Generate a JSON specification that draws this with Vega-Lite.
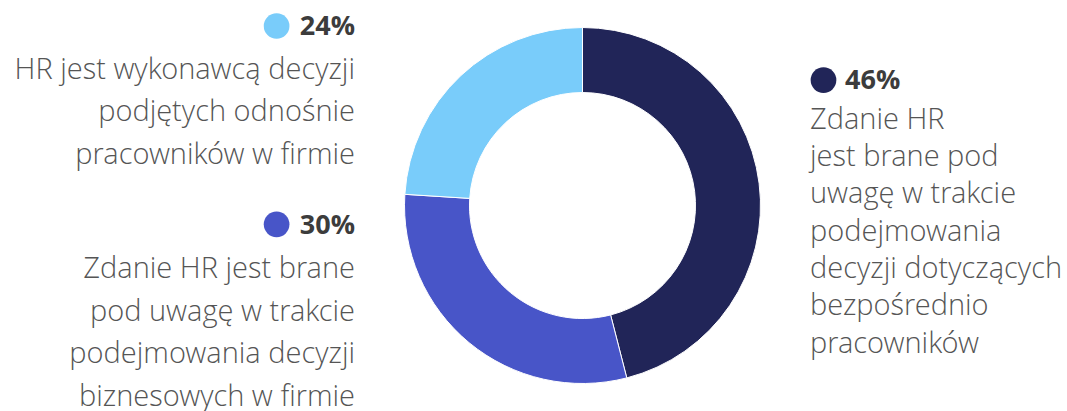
{
  "$schema": "https://vega.github.io/schema/vega-lite/v6.json",
  "width": 1067,
  "height": 411,
  "padding": 0,
  "autosize": {"type": "none"},
  "background": "#ffffff",
  "config": {"view": {"stroke": null}},
  "data": {
    "values": [
      {"key": "a", "value": 0.46, "side": "right", "desc": ["Zdanie HR", "jest brane pod", "uwagę w trakcie", "podejmowania", "decyzji dotyczących", "bezpośrednio", "pracowników"]},
      {"key": "b", "value": 0.30, "side": "left", "desc": ["Zdanie HR jest brane", "pod uwagę w trakcie", "podejmowania decyzji", "biznesowych w firmie"]},
      {"key": "c", "value": 0.24, "side": "left", "desc": ["HR jest wykonawcą decyzji", "podjętych odnośnie", "pracowników w firmie"]}
    ]
  },
  "resolve": {"scale": {"x": "independent", "y": "independent"}},
  "layer": [
    {
      "mark": {"type": "arc", "radius": 178, "radius2": 113, "stroke": "#ffffff", "strokeWidth": 1},
      "encoding": {
        "x": {"datum": "center", "type": "nominal", "scale": {"type": "point", "domain": ["left", "center", "right"], "range": [355, 810], "padding": 0}, "axis": null},
        "theta": {"field": "value", "type": "quantitative", "stack": true},
        "order": {"field": "value", "type": "quantitative", "sort": "descending"},
        "color": {"field": "key", "type": "nominal", "scale": {"domain": ["a", "b", "c"], "range": ["#212558", "#4855c8", "#79ccfa"]}, "legend": null}
      }
    },
    {
      "mark": {"type": "point", "filled": true, "shape": "circle", "size": 660, "opacity": 1},
      "encoding": {
        "x": {"field": "side", "type": "nominal", "scale": {"type": "point", "domain": ["left", "right"], "range": [276.6, 823.5], "padding": 0}, "axis": null},
        "y": {"field": "key", "type": "nominal", "scale": {"type": "point", "domain": ["c", "s1", "s2", "a", "s4", "s5", "s6", "s7", "s8", "s9", "s10", "b"], "range": [26, 224.3], "padding": 0}, "axis": null},
        "color": {"field": "key", "type": "nominal", "scale": {"domain": ["a", "b", "c"], "range": ["#212558", "#4855c8", "#79ccfa"]}, "legend": null}
      }
    },
    {
      "transform": [{"filter": "datum.side == 'left'"}],
      "mark": {"type": "text", "align": "right", "baseline": "alphabetic", "font": "Open Sans", "fontWeight": "bold", "fontSize": 27, "color": "#3c3c3c"},
      "encoding": {
        "x": {"field": "side", "type": "nominal", "scale": {"type": "point", "domain": ["left", "center", "right"], "range": [355, 810], "padding": 0}, "axis": null},
        "y": {"field": "key", "type": "nominal", "scale": {"type": "point", "domain": ["c", "s1", "s2", "a", "s4", "s5", "s6", "s7", "s8", "s9", "s10", "b"], "range": [35, 234.3], "padding": 0}, "axis": null},
        "text": {"field": "value", "type": "quantitative", "format": ".0%"}
      }
    },
    {
      "transform": [{"filter": "datum.side == 'right'"}],
      "mark": {"type": "text", "align": "left", "baseline": "alphabetic", "dx": 35, "font": "Open Sans", "fontWeight": "bold", "fontSize": 27, "color": "#3c3c3c"},
      "encoding": {
        "x": {"field": "side", "type": "nominal", "scale": {"type": "point", "domain": ["left", "center", "right"], "range": [355, 810], "padding": 0}, "axis": null},
        "y": {"field": "key", "type": "nominal", "scale": {"type": "point", "domain": ["c", "s1", "s2", "a", "s4", "s5", "s6", "s7", "s8", "s9", "s10", "b"], "range": [35, 234.3], "padding": 0}, "axis": null},
        "text": {"field": "value", "type": "quantitative", "format": ".0%"}
      }
    },
    {
      "transform": [{"filter": "datum.side == 'left'"}],
      "mark": {"type": "text", "align": "right", "baseline": "alphabetic", "dy": 43.5, "lineHeight": 42.8, "font": "'Open Sans Light', 'Open Sans'", "fontWeight": 300, "fontSize": 29, "color": "#555555"},
      "encoding": {
        "x": {"field": "side", "type": "nominal", "scale": {"type": "point", "domain": ["left", "center", "right"], "range": [355, 810], "padding": 0}, "axis": null},
        "y": {"field": "key", "type": "nominal", "scale": {"type": "point", "domain": ["c", "s1", "s2", "a", "s4", "s5", "s6", "s7", "s8", "s9", "s10", "b"], "range": [35, 234.3], "padding": 0}, "axis": null},
        "text": {"field": "desc", "type": "nominal"}
      }
    },
    {
      "transform": [{"filter": "datum.side == 'right'"}],
      "mark": {"type": "text", "align": "left", "baseline": "alphabetic", "dy": 39.5, "lineHeight": 37.3, "font": "'Open Sans Light', 'Open Sans'", "fontWeight": 300, "fontSize": 29, "color": "#555555"},
      "encoding": {
        "x": {"field": "side", "type": "nominal", "scale": {"type": "point", "domain": ["left", "center", "right"], "range": [355, 810], "padding": 0}, "axis": null},
        "y": {"field": "key", "type": "nominal", "scale": {"type": "point", "domain": ["c", "s1", "s2", "a", "s4", "s5", "s6", "s7", "s8", "s9", "s10", "b"], "range": [35, 234.3], "padding": 0}, "axis": null},
        "text": {"field": "desc", "type": "nominal"}
      }
    }
  ]
}
